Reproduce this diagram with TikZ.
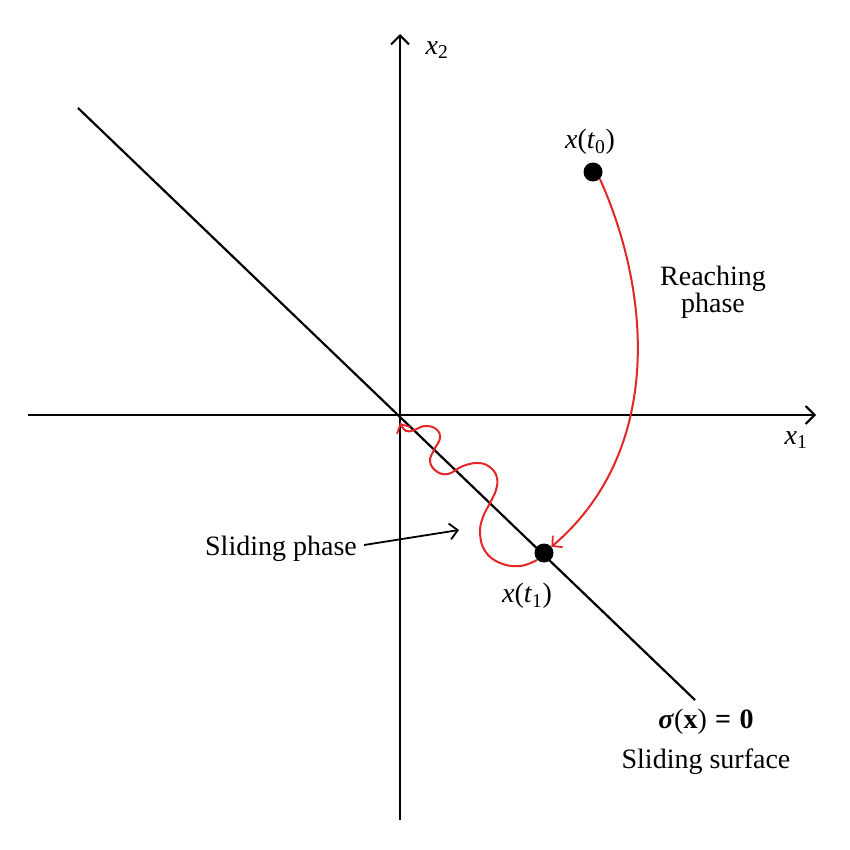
\documentclass[tikz,border=0pt]{standalone}
\usepackage{fontspec}
\setmainfont{Liberation Serif}
\usetikzlibrary{arrows.meta}
\definecolor{curvered}{RGB}{228,38,38}
\newcommand{\vx}{\textit{x}}
\begin{document}
\begin{tikzpicture}[x=1pt,y=-1pt,
  axisline/.style={line width=2.2pt,-{Straight Barb[length=9pt,width=18pt,line width=2pt]}},
  redpath/.style={curvered,line width=2pt},
  redtip/.style={-{Straight Barb[length=7pt,width=15pt,line width=1.8pt]}},
  dot/.style={circle,fill=black,inner sep=0pt,minimum size=19pt},
  lbl/.style={font=\fontsize{28}{33}\selectfont,inner sep=0pt}]
\useasboundingbox[fill=white] (0,0) rectangle (850,850);
% axes
\coordinate (O) at (400,415);
\coordinate (xl) at (28,415);
\coordinate (xr) at (816,415);
\coordinate (yb) at (400,820);
\coordinate (yt) at (400,34);
\draw[axisline] (xl) -- (xr);
\draw[axisline] (yb) -- (yt);
\node[lbl] (x1) at (796,440) {\vx\textsubscript{1}};
\node[lbl] (x2) at (437,50) {\vx\textsubscript{2}};
% sliding surface
\coordinate (s1) at (78,108);
\coordinate (s2) at (695,700);
\draw[line width=2.2pt] (s1) -- (s2);
% points
\node[dot] (t0) at (593,172) {};
\node[dot] (t1) at (544,553) {};
\node[lbl] (lt0) at (590,142) {\vx(\textit{t}\textsubscript{0})};
\node[lbl] (lt1) at (527,596) {\vx(\textit{t}\textsubscript{1})};
% reaching phase
\draw[redpath,redtip] (t0.-45) .. controls (650,290) and (665,450) .. (t1.40);
\node[lbl,align=center] (reach) at (713,292) {Reaching\\[-6pt]phase};
% sliding phase wiggle
\draw[redpath,redtip] plot[smooth,tension=0.7] coordinates {
  (537,560) (520,566) (500,563) (485,551) (480,533) (483,517) (490,503) (496,490) (497,478) (491,468) (479,463) (463,466) (448,474) (436,471) (430,461) (434,450) (440,438) (436,429) (425,426) (414,430) (406,431) (400,423)};
% sliding phase label
\node[lbl] (slide) at (281,549) {Sliding phase};
\coordinate (sa) at (459,530);
\draw[line width=1.8pt,-{Straight Barb[length=8pt,width=16pt,line width=1.8pt]}] (slide.east) ++(7pt,4pt) -- (sa);
% surface label
\node[lbl] (sig) at (706,722) {\textbf{\textit{σ}}(\textbf{x})\hspace{0.3em}\textbf{=}\hspace{0.3em}\textbf{0}};
\node[lbl] (surf) at (706,762) {Sliding surface};
\end{tikzpicture}
\end{document}
